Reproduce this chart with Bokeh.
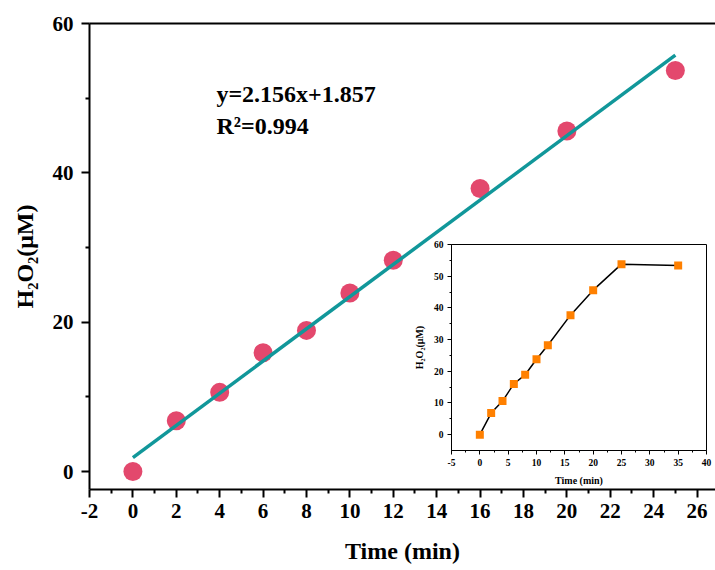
from bokeh.plotting import figure
from bokeh.models import (Label, LinearAxis, FixedTicker, Range1d)
from bokeh.embed import file_html
from bokeh.resources import INLINE

# ---------------- data ----------------
time_main = [0, 2, 4, 6, 8, 10, 12, 16, 20, 25]
h2o2_main = [0.0, 6.8, 10.6, 15.9, 18.9, 23.9, 28.3, 37.9, 45.6, 53.7]

fit_slope = 2.156
fit_intercept = 1.857
fit_x = [0, 25]
fit_text = "y=2.156x+1.857"
r2_text = "R\u00b2=0.994"

time_inset = [0, 2, 4, 6, 8, 10, 12, 16, 20, 25, 35]
h2o2_inset = [0.0, 6.8, 10.6, 16.0, 18.9, 23.8, 28.2, 37.7, 45.6, 53.8, 53.4]

main_xticks = list(range(-2, 27, 2))
main_yticks = [0, 20, 40, 60]
inset_xticks = list(range(-5, 41, 5))
inset_yticks = list(range(0, 61, 10))

FONT = "Liberation Serif"
W, H = 715, 570

# ---------------- main figure ----------------
p = figure(width=W, height=H, output_backend="svg", toolbar_location=None,
           x_range=Range1d(-2, 26.85), y_range=Range1d(-2.41, 60),
           min_border_left=89, min_border_right=0, min_border_top=23,
           min_border_bottom=81)
p.outline_line_color = None
p.grid.visible = False
p.background_fill_color = "white"

for ax in (p.xaxis[0], p.yaxis[0]):
    ax.axis_line_width = 2
    ax.axis_line_color = "black"
    ax.major_tick_line_width = 2
    ax.minor_tick_line_width = 2
    ax.major_tick_in = 0
    ax.major_tick_out = 8
    ax.minor_tick_in = 0
    ax.minor_tick_out = 4
    ax.major_label_text_font = FONT
    ax.major_label_text_font_style = "bold"
    ax.major_label_text_font_size = "21px"
    ax.major_label_text_color = "black"
    ax.axis_label_text_font = FONT
    ax.axis_label_text_font_style = "bold"
    ax.axis_label_text_font_size = "24px"
    ax.axis_label_text_color = "black"

p.xaxis[0].ticker = FixedTicker(ticks=main_xticks,
                                minor_ticks=[t + 1 for t in main_xticks])
p.yaxis[0].ticker = FixedTicker(ticks=main_yticks,
                                minor_ticks=[10, 30, 50])
p.xaxis[0].major_label_overrides = {t: str(t) for t in main_xticks}
p.xaxis[0].axis_label = "Time (min)"
p.yaxis[0].axis_label = "H\u2082O\u2082(\u03bcM)"
p.xaxis[0].major_label_standoff = 6
p.yaxis[0].major_label_standoff = 8
p.xaxis[0].axis_label_standoff = 17
p.yaxis[0].axis_label_standoff = 12

top_axis = LinearAxis(axis_line_width=2, axis_line_color="black",
                      major_tick_line_color=None, minor_tick_line_color=None,
                      major_label_text_font_size="0px",
                      ticker=FixedTicker(ticks=[]))
p.add_layout(top_axis, "above")

p.scatter(time_main, h2o2_main, size=19, color="#E3486D", line_color=None)
fit_y = [fit_slope * x + fit_intercept for x in fit_x]
p.line(fit_x, fit_y, line_color="#11979A", line_width=3.5)

p.add_layout(Label(x=3.85, y=50.6, text=fit_text, text_font=FONT,
                   text_font_style="bold", text_font_size="24px",
                   text_color="black", text_baseline="alphabetic"))
p.add_layout(Label(x=3.85, y=46.3, text=r2_text, text_font=FONT,
                   text_font_style="bold", text_font_size="24px",
                   text_color="black", text_baseline="alphabetic"))

# ---------------- inset figure (overlaid) ----------------
q = figure(width=W, height=H, output_backend="svg", toolbar_location=None,
           x_range=Range1d(-5, 40), y_range=Range1d(-5, 60),
           min_border_left=451, min_border_right=9, min_border_top=244,
           min_border_bottom=120,
           styles={"position": "absolute", "left": "0px", "top": "0px"})
q.border_fill_color = None
q.background_fill_color = "white"
q.outline_line_color = "black"
q.outline_line_width = 1
q.grid.visible = False

for ax in (q.xaxis[0], q.yaxis[0]):
    ax.axis_line_width = 1
    ax.major_tick_line_width = 1
    ax.minor_tick_line_width = 1
    ax.major_tick_in = 0
    ax.major_tick_out = 4
    ax.minor_tick_in = 0
    ax.minor_tick_out = 2
    ax.major_label_text_font = FONT
    ax.major_label_text_font_style = "bold"
    ax.major_label_text_font_size = "9.5px"
    ax.major_label_text_color = "black"
    ax.axis_label_text_font = FONT
    ax.axis_label_text_font_style = "bold"
    ax.axis_label_text_font_size = "10px"
    ax.axis_label_text_color = "black"
    ax.major_label_standoff = 4
    ax.axis_label_standoff = 6

q.xaxis[0].ticker = FixedTicker(ticks=inset_xticks,
                                minor_ticks=[t + 2.5 for t in inset_xticks])
q.yaxis[0].ticker = FixedTicker(ticks=inset_yticks,
                                minor_ticks=[t + 5 for t in inset_yticks])
q.xaxis[0].major_label_overrides = {t: str(t) for t in inset_xticks}
q.xaxis[0].axis_label = "Time (min)"
q.yaxis[0].axis_label = "H\u2082O\u2082(\u03bcM)"

q.line(time_inset, h2o2_inset, line_color="black", line_width=1.5)
q.scatter(time_inset, h2o2_inset, marker="square", size=8,
          color="#FF8000", line_color=None)

open("out.html", "w").write(file_html([p, q], INLINE))
